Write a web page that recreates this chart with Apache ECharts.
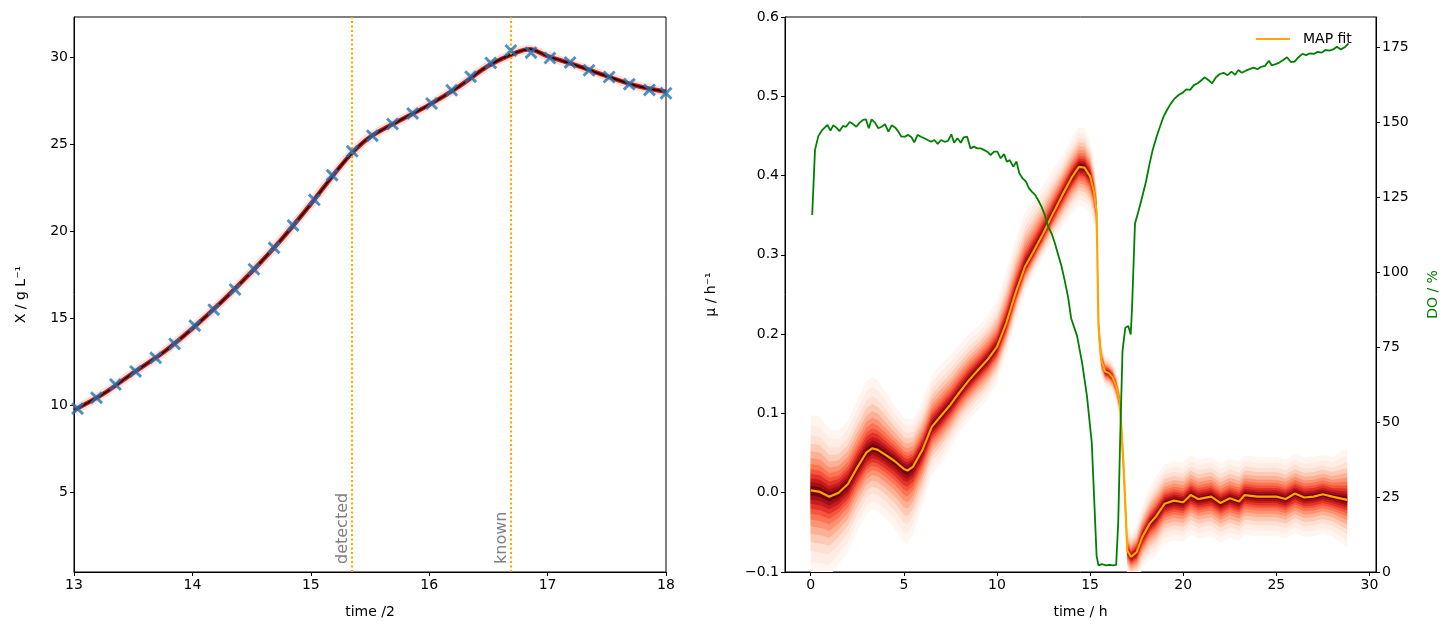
<!DOCTYPE html>
<html>
<head>
<meta charset="utf-8">
<script src="https://cdn.jsdelivr.net/npm/echarts@6/dist/echarts.min.js"></script>
<style>
  html, body { margin: 0; padding: 0; background: #fff; }
  #chart { width: 1453px; height: 632px; }
</style>
</head>
<body>
<div id="chart"></div>
<script>
// left panel: biomass measurements and fit
const sampleT = [13.03, 13.19, 13.35, 13.52, 13.69, 13.85, 14.02, 14.18, 14.36, 14.52, 14.69, 14.85, 15.03, 15.18, 15.35, 15.52,
  15.69, 15.86, 16.02, 16.19, 16.35, 16.52, 16.69, 16.86, 17.02, 17.19, 17.35, 17.52, 17.69, 17.86, 18.0]
const sampleX = [9.79, 10.42, 11.18, 11.93, 12.71, 13.51, 14.56, 15.48, 16.64, 17.80, 19.03, 20.32, 21.79, 23.21, 24.58, 25.48,
  26.15, 26.76, 27.33, 28.09, 28.87, 29.66, 30.38, 30.25, 29.94, 29.69, 29.24, 28.85, 28.44, 28.11, 27.92]
const fitT = [13.0, 13.25, 13.5, 13.75, 14.0, 14.25, 14.5, 14.75, 15.0, 15.2, 15.35, 15.5, 15.75, 16.0, 16.25, 16.5, 16.75, 16.85,
  17.0, 17.25, 17.5, 17.75, 18.0]
const fitX = [9.7, 10.65, 11.85, 13.0, 14.4, 15.95, 17.65, 19.5, 21.55, 23.3, 24.5, 25.4, 26.35, 27.25, 28.3, 29.5, 30.3, 30.45,
  30.05, 29.5, 28.9, 28.35, 28.0]
const eventT = [15.35, 16.69]
const eventLabel = ['detected', 'known']
const leftYTicks = [5, 10, 15, 20, 25, 30]

// right panel: growth rate posterior + dissolved oxygen
const muT = [0, 0.5, 1, 1.5, 2, 2.5, 3, 3.3, 3.6, 4, 4.5, 5, 5.2, 5.5, 6, 6.5, 7, 7.5, 8, 8.5,
  9, 9.5, 10, 10.5, 11, 11.5, 12, 12.5, 13, 13.5, 14, 14.4, 14.7, 15, 15.2, 15.35, 15.45, 15.6, 15.8, 16,
  16.2, 16.4, 16.6, 16.8, 17.0, 17.2, 17.5, 17.8, 18.2, 18.5, 19, 19.5, 20, 20.4, 20.8, 21.5, 22, 22.5, 23, 23.3,
  24, 25, 25.5, 26, 26.5, 27, 27.5, 28, 28.8]
const muMap = [0.003, 0.001, -0.005, 0.000, 0.011, 0.032, 0.051, 0.056, 0.054, 0.048, 0.040, 0.030, 0.028, 0.033, 0.054, 0.083, 0.097, 0.111, 0.127, 0.142,
  0.155, 0.168, 0.184, 0.214, 0.252, 0.285, 0.306, 0.328, 0.352, 0.375, 0.397, 0.411, 0.410, 0.399, 0.380, 0.355, 0.210, 0.168, 0.153, 0.151,
  0.146, 0.134, 0.113, 0.032, -0.073, -0.081, -0.075, -0.056, -0.039, -0.031, -0.014, -0.010, -0.012, -0.003, -0.008, -0.005, -0.013, -0.007, -0.011, -0.003,
  -0.005, -0.005, -0.008, -0.001, -0.006, -0.005, -0.002, -0.005, -0.009]
const muUp = [0.095, 0.095, 0.085, 0.078, 0.08, 0.085, 0.09, 0.09, 0.088, 0.08, 0.07, 0.065, 0.065, 0.06, 0.062, 0.065, 0.065, 0.062, 0.06, 0.058,
  0.055, 0.055, 0.058, 0.065, 0.068, 0.068, 0.065, 0.06, 0.055, 0.05, 0.05, 0.05, 0.05, 0.045, 0.04, 0.035, 0.025, 0.022, 0.02, 0.02,
  0.02, 0.02, 0.02, 0.03, 0.03, 0.03, 0.035, 0.04, 0.045, 0.05, 0.05, 0.05, 0.05, 0.05, 0.05, 0.05, 0.05, 0.05, 0.05, 0.05,
  0.05, 0.05, 0.05, 0.05, 0.05, 0.05, 0.05, 0.05, 0.065]
const muDown = [0.105, 0.105, 0.1, 0.09, 0.085, 0.08, 0.078, 0.078, 0.078, 0.08, 0.085, 0.093, 0.093, 0.085, 0.07, 0.06, 0.06, 0.055, 0.05, 0.05,
  0.05, 0.05, 0.045, 0.04, 0.035, 0.032, 0.03, 0.03, 0.035, 0.04, 0.045, 0.048, 0.05, 0.045, 0.04, 0.035, 0.025, 0.022, 0.02, 0.02,
  0.02, 0.02, 0.02, 0.03, 0.03, 0.03, 0.035, 0.04, 0.045, 0.05, 0.05, 0.05, 0.05, 0.05, 0.05, 0.05, 0.05, 0.05, 0.05, 0.05,
  0.05, 0.05, 0.05, 0.05, 0.05, 0.05, 0.05, 0.05, 0.06]
const bandFrac = [1, 0.86, 0.73, 0.62, 0.52, 0.43, 0.35, 0.28, 0.22, 0.16, 0.11, 0.06]
const bandColor = ['#fff6f2', '#ffede5', '#fee0d2', '#fdcab5', '#fcb195', '#fc9473', '#fb7555', '#f5553c', '#e3342a', '#c81b1d', '#a10e15', '#6e020e']

const doT = [0.08, 0.23, 0.41, 0.59, 0.75, 0.9, 1.06, 1.21, 1.36, 1.55, 1.73, 1.9, 2.09, 2.27, 2.45, 2.63, 2.81, 2.96, 3.12, 3.27,
  3.45, 3.63, 3.81, 3.99, 4.17, 4.35, 4.53, 4.71, 4.87, 5.05, 5.23, 5.41, 5.56, 5.74, 5.92, 6.10, 6.28, 6.46, 6.64, 6.82,
  7.0, 7.19, 7.37, 7.55, 7.70, 7.88, 8.06, 8.22, 8.40, 8.58, 8.76, 8.94, 9.12, 9.30, 9.48, 9.66, 9.84, 10.02, 10.20, 10.38,
  10.53, 10.69, 10.87, 11.05, 11.20, 11.38, 11.56, 11.72, 11.87, 12.05, 12.21, 12.39, 12.57, 12.75, 12.93, 13.11, 13.29, 13.47, 13.65, 13.83,
  13.98, 14.3, 14.57, 14.83, 15.09, 15.22, 15.35, 15.45, 15.63, 15.86, 16.04, 16.25, 16.4, 16.51, 16.61, 16.74, 16.89, 17.05, 17.18, 17.25,
  17.41, 17.59, 17.80, 18.0, 18.18, 18.36, 18.57, 18.75, 18.93, 19.13, 19.34, 19.55, 19.75, 19.98, 20.16, 20.37, 20.57, 20.78, 20.99, 21.14,
  21.35, 21.55, 21.76, 21.97, 22.17, 22.38, 22.59, 22.79, 22.95, 23.15, 23.36, 23.56, 23.77, 23.98, 24.19, 24.39, 24.6, 24.75, 24.96, 25.16,
  25.37, 25.57, 25.78, 25.98, 26.19, 26.40, 26.60, 26.81, 27.02, 27.22, 27.43, 27.63, 27.84, 28.05, 28.25, 28.46, 28.67, 28.87]
const doVal = [119.0, 140.7, 145.3, 147.1, 148.1, 149.0, 147.1, 148.9, 148.2, 147.0, 148.7, 148.4, 150.0, 149.3, 148.4, 149.8, 150.7, 150.9, 147.9, 150.9,
  149.8, 147.9, 148.4, 149.3, 146.8, 148.9, 148.2, 146.8, 145.1, 145.1, 145.7, 144.9, 143.2, 145.7, 145.1, 144.6, 144.0, 143.4, 144.0, 142.7,
  144.0, 143.4, 143.7, 145.9, 143.1, 144.6, 143.1, 144.9, 145.1, 141.2, 141.8, 141.2, 141.2, 140.7, 140.1, 139.0, 140.1, 140.1, 137.9, 139.3,
  136.8, 137.3, 135.1, 136.8, 132.9, 131.2, 130.1, 127.9, 126.8, 125.7, 124.0, 121.8, 119.0, 115.1, 112.9, 109.6, 105.7, 101.8, 96.8, 91.2,
  84.6, 78.7, 69.8, 58.7, 43.1, 24.2, 5.3, 2.2, 2.6, 2.2, 2.4, 2.2, 2.4, 16.4, 43.1, 73.7, 81.4, 82.0, 79.2, 87.6,
  116.2, 120.1, 125.1, 130.1, 135.7, 140.7, 145.1, 148.4, 151.6, 154.0, 156.2, 157.9, 159.0, 159.8, 160.9, 160.7, 162.3, 162.9, 164.0, 164.9,
  164.0, 162.9, 164.9, 166.0, 166.4, 165.6, 166.8, 165.7, 167.3, 166.4, 167.1, 167.6, 168.1, 167.6, 168.4, 168.7, 170.4, 168.9, 169.3, 169.8,
  170.7, 171.6, 170.0, 170.1, 171.6, 172.7, 172.3, 172.9, 172.7, 173.4, 173.1, 174.0, 173.8, 174.2, 175.1, 174.2, 174.9, 176.2]
const rightXTicks = [0, 5, 10, 15, 20, 25, 30]
const doTicks = [0, 25, 50, 75, 100, 125, 150, 175]

const FONT = 'DejaVu Sans'
const pair = (xs, ys) => xs.map((x, i) => [x, ys[i]])
const minus = s => String(s).replace('-', '\u2212')

const baseAxis = {
  axisLine: { show: true, onZero: false, lineStyle: { color: '#000', width: 1 } },
  axisTick: { show: true, length: 4, lineStyle: { color: '#000' } },
  axisLabel: { color: '#000', fontFamily: FONT, fontSize: 14, margin: 6 },
  splitLine: { show: false },
  nameLocation: 'middle',
  nameTextStyle: { color: '#000', fontFamily: FONT, fontSize: 14 }
}

// X-shaped marker like matplotlib 'x'
const crossPath = 'path://M0,1.9L1.9,0L6,4.1L10.1,0L12,1.9L7.9,6L12,10.1L10.1,12L6,7.9L1.9,12L0,10.1L4.1,6Z'

function renderBand(params, api) {
  const k = api.value(2)
  const f = bandFrac[k]
  const pts = []
  for (let i = 0; i < muT.length; i++) pts.push(api.coord([muT[i], muMap[i] + f * muUp[i]]))
  for (let i = muT.length - 1; i >= 0; i--) pts.push(api.coord([muT[i], muMap[i] - f * muDown[i]]))
  const cs = params.coordSys
  return {
    type: 'polygon',
    shape: { points: pts },
    style: { fill: bandColor[k], stroke: null },
    clipPath: { type: 'rect', shape: { x: cs.x, y: cs.y, width: cs.width, height: cs.height } }
  }
}

const chart = echarts.init(document.getElementById('chart'), null, { renderer: 'canvas' })
chart.setOption({
  animation: false,
  backgroundColor: '#fff',
  grid: [
    { left: 74, top: 17, width: 592, height: 555, show: true, borderColor: '#000', borderWidth: 1, backgroundColor: 'transparent' },
    { left: 785, top: 17, width: 591, height: 555, show: true, borderColor: '#000', borderWidth: 1, backgroundColor: 'transparent' }
  ],
  legend: {
    data: ['MAP fit'],
    left: 1251, top: 27,
    icon: 'rect', itemWidth: 34, itemHeight: 2,
    textStyle: { color: '#000', fontFamily: FONT, fontSize: 14, padding: [0, 0, 0, 8] }
  },
  xAxis: [
    { ...baseAxis, gridIndex: 0, type: 'value', min: 13, max: 18, interval: 1, name: 'time /2', nameGap: 33 },
    { ...baseAxis, gridIndex: 1, type: 'value', min: -1.38, max: 30.35, name: 'time / h', nameGap: 33,
      axisTick: { ...baseAxis.axisTick, customValues: rightXTicks },
      axisLabel: { ...baseAxis.axisLabel, customValues: rightXTicks } }
  ],
  yAxis: [
    { ...baseAxis, gridIndex: 0, type: 'value', min: 0.4, max: 32.3, name: 'X / g L\u207B\u00B9', nameGap: 46,
      axisTick: { ...baseAxis.axisTick, customValues: leftYTicks },
      axisLabel: { ...baseAxis.axisLabel, customValues: leftYTicks } },
    { ...baseAxis, gridIndex: 1, type: 'value', min: -0.1, max: 0.6, interval: 0.1, name: '\u03BC / h\u207B\u00B9', nameGap: 67,
      axisLabel: { ...baseAxis.axisLabel, formatter: v => minus(v.toFixed(1)) } },
    { ...baseAxis, gridIndex: 1, type: 'value', position: 'right', min: 0, max: 185, name: 'DO / %', nameGap: 50,
      nameTextStyle: { ...baseAxis.nameTextStyle, color: '#008000' },
      axisTick: { ...baseAxis.axisTick, customValues: doTicks },
      axisLabel: { ...baseAxis.axisLabel, customValues: doTicks } }
  ],
  series: [
    // left: blurred fit line
    { type: 'line', xAxisIndex: 0, yAxisIndex: 0, data: pair(fitT, fitX), symbol: 'none', smooth: 0.3,
      lineStyle: { color: 'rgba(250,120,100,0.22)', width: 9 }, z: 2 },
    { type: 'line', xAxisIndex: 0, yAxisIndex: 0, data: pair(fitT, fitX), symbol: 'none', smooth: 0.3,
      lineStyle: { color: '#cf1f1f', width: 4.5 }, z: 3 },
    { type: 'line', xAxisIndex: 0, yAxisIndex: 0, data: pair(fitT, fitX), symbol: 'none', smooth: 0.3,
      lineStyle: { color: '#2a0000', width: 2 }, z: 4 },
    { type: 'scatter', xAxisIndex: 0, yAxisIndex: 0, data: pair(sampleT, sampleX),
      symbol: crossPath, symbolSize: 13, itemStyle: { color: '#1f77b4' }, z: 5,
      markLine: {
        silent: true, symbol: 'none',
        lineStyle: { color: '#ffa500', width: 2.2, type: [2, 2.5] },
        label: { show: true, position: 'insideStartTop', color: '#808080', fontFamily: FONT, fontSize: 16, distance: [8, 1] },
        data: eventT.map((t, i) => ({ xAxis: t, label: { formatter: eventLabel[i] } }))
      } },
    // right: posterior density bands
    { type: 'custom', xAxisIndex: 1, yAxisIndex: 1, renderItem: renderBand, silent: true,
      data: bandFrac.map((f, i) => [0, 0, i]), z: 1 },
    { name: 'MAP fit', type: 'line', xAxisIndex: 1, yAxisIndex: 1, data: pair(muT, muMap), symbol: 'none',
      lineStyle: { color: '#ffa500', width: 2.2 }, itemStyle: { color: '#ffa500' }, z: 3 },
    { type: 'line', xAxisIndex: 1, yAxisIndex: 2, data: pair(doT, doVal), symbol: 'none',
      lineStyle: { color: '#008000', width: 1.8 }, z: 4 }
  ]
})
</script>
</body>
</html>
